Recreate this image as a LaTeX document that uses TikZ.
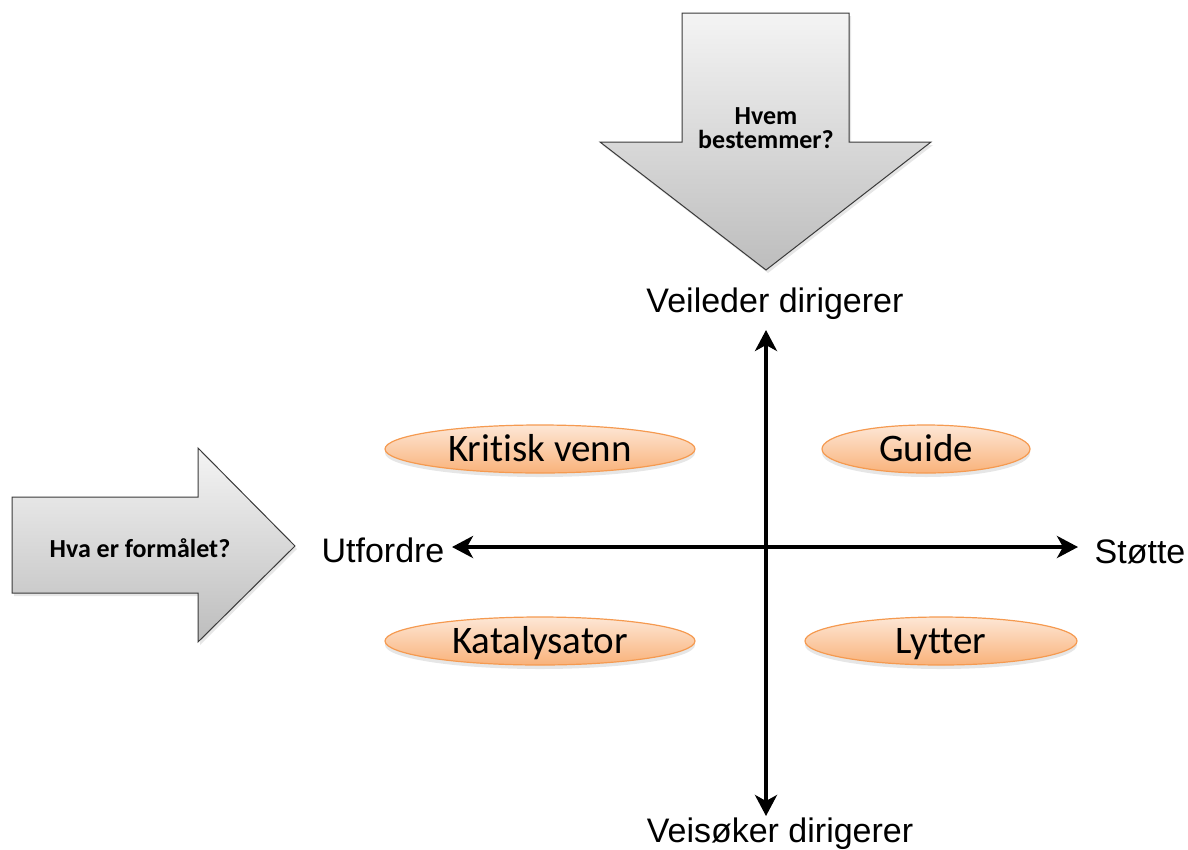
\documentclass[tikz,border=0pt]{standalone}
\usepackage{fontspec}
\setmainfont{Liberation Sans}
\newfontfamily\calibri[Ligatures=NoCommon]{Carlito}
\usetikzlibrary{arrows.meta,shapes.geometric,shadows,positioning}
\definecolor{peachtop}{HTML}{FDE7D6}
\definecolor{peachbot}{HTML}{F9B27A}
\definecolor{peachline}{HTML}{F59A50}
\definecolor{greytop}{HTML}{F4F4F4}
\definecolor{greybot}{HTML}{BDBDBD}
\definecolor{greyline}{HTML}{3A3A3A}

\begin{document}
\begin{tikzpicture}[x=1pt,y=-1pt,
  role/.style={ellipse, draw=peachline, line width=1.2pt, top color=peachtop, bottom color=peachbot,
    minimum height=48pt, inner sep=0pt, font=\calibri\fontsize{39}{40}\selectfont,
    text height=25pt, text depth=0pt,
    drop shadow={opacity=0.2, shadow xshift=0pt, shadow yshift=-4pt}},
  bigarrow/.style={draw=greyline, line width=1pt, top color=greytop, bottom color=greybot,
    drop shadow={opacity=0.2, shadow xshift=2pt, shadow yshift=-3pt}},
  question/.style={font=\calibri\bfseries\fontsize{26}{24}\selectfont, align=center},
  axislabel/.style={font=\fontsize{34}{36}\selectfont, anchor=base},
  axis/.style={line width=4pt, {Stealth[length=21pt,width=22pt,inset=6pt]}-{Stealth[length=21pt,width=22pt,inset=6pt]}}]
\useasboundingbox (0,0) rectangle (1188,849);

% the two big arrows
\path[bigarrow] (682,13) -- (849,13) -- (849,142) -- (931,142) -- (766,270)
  -- (600,142) -- (682,142) -- cycle;
\node[question] (who) at (766,128) {Hvem\\bestemmer?};
\path[bigarrow] (12,497) -- (198,497) -- (198,448) -- (295,546) -- (198,642)
  -- (198,593) -- (12,593) -- cycle;
\node[question] (why) at (140,548) {Hva er formålet?};

% axis labels
\node[axislabel] (veileder) at (775,312) {Veileder dirigerer};
\node[axislabel] (veisoker) at (780,842) {Veisøker dirigerer};
\node[axislabel] (utfordre) at (383,562) {Utfordre};
\node[axislabel] (stotte) at (1140,563) {Støtte};

\coordinate (ytop) at (766,330);
\coordinate (ybot) at (766,816);
\coordinate (xleft) at (452,547);
\coordinate (xright) at (1078,547);

\draw[axis] (ybot) -- (ytop);
\draw[axis] (xleft) -- (xright);

% roles
\node[role, minimum width=310pt] (kritisk) at (540,449) {Kritisk venn};
\node[role, minimum width=208pt] (guide) at (926,449) {Guide};
\node[role, minimum width=310pt] (katalysator) at (540,641) {Katalysator};
\node[role, minimum width=272pt] (lytter) at (941,641) {Lytter};
\end{tikzpicture}
\end{document}
